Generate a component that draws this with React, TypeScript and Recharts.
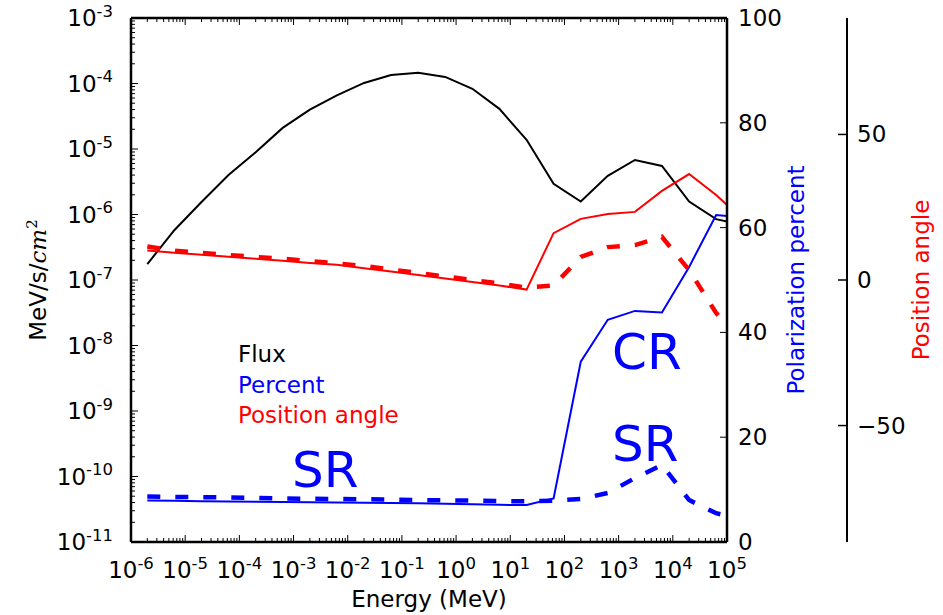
import React from 'react';
import { LineChart, Line, XAxis, YAxis, ReferenceLine } from 'recharts';

// Photon energy grid in MeV (half-decade steps, last point at the axis edge)
const energy = [
  2e-6, 6.3e-6, 2e-5, 6.3e-5, 2e-4, 6.3e-4, 2e-3, 6.3e-3, 0.02, 0.063, 0.2, 0.63,
  2, 6.3, 20, 63, 200, 630, 2000, 6300, 2e4, 6.3e4, 1e5,
];

// Flux, MeV/s/cm^2
const flux = [
  1.75e-7, 5.75e-7, 1.55e-6, 4.0e-6, 8.9e-6, 2.1e-5, 4.0e-5, 6.6e-5, 1.02e-4, 1.35e-4,
  1.46e-4, 1.26e-4, 8.3e-5, 4.1e-5, 1.38e-5, 2.95e-6, 1.58e-6, 3.9e-6, 6.8e-6, 5.5e-6,
  1.58e-6, 8.5e-7, 7.8e-7,
];

// Polarization percent: curvature (solid) and synchrotron (dashed)
const percentCR = [
  7.9, 7.85, 7.8, 7.75, 7.7, 7.65, 7.6, 7.55, 7.5, 7.45, 7.4, 7.3, 7.2, 7.1, 7.05,
  8.3, 34.4, 42.4, 44.1, 43.8, 52.5, 62.4, 62.2,
];
const percentSR = [
  8.7, 8.6, 8.55, 8.5, 8.4, 8.3, 8.25, 8.2, 8.15, 8.1, 8.0, 7.95, 7.9, 7.8, 7.8,
  7.9, 8.2, 9.35, 12.2, 14.7, 8.0, 5.5, 5.0,
];

// Position angle in degrees
const angleCR = [
  10.1, 9.4, 8.7, 8.0, 7.3, 6.6, 5.8, 5.2, 4.0, 2.9, 1.7, 0.5, -0.7, -1.9, -3.3,
  16.1, 21.0, 22.7, 23.4, 30.6, 36.4, 29.2, 25.8,
];
const angleSR = [
  11.5, 10.1, 9.3, 8.6, 7.9, 7.3, 6.5, 5.7, 4.8, 3.6, 2.4, 1.2, 0, -1.2, -2.6,
  -1.9, 7.9, 11.3, 12.0, 14.8, 3.4, -11.3, -15.5,
];

const percentTicks = [0, 20, 40, 60, 80, 100];
const angleTicks = [-50, 0, 50];

// log axes: decades plus 2..9 minor ticks
function logTicks(from: number, to: number) {
  const out: number[] = [];
  for (let e = from; e <= to; e++) {
    out.push(Math.pow(10, e));
    if (e < to) for (let m = 2; m <= 9; m++) out.push(m * Math.pow(10, e));
  }
  return out;
}
const energyTicks = logTicks(-6, 5);
const fluxTicks = logTicks(-11, -3);

const data = energy.map((E, i) => ({
  E,
  flux: flux[i],
  pctCR: percentCR[i],
  pctSR: percentSR[i],
  angCR: angleCR[i],
  angSR: angleSR[i],
}));

const FONT = '"DejaVu Sans", sans-serif';
const FS = 23;
const SUP = 16.5;
const BLUE = '#0000ff';
const RED = '#ff0000';
const PLOT_TOP = 18;

const isDecade = (v: number) => {
  const l = Math.log10(v);
  return Math.abs(l - Math.round(l)) < 1e-6;
};

const EnergyTick = (props: any) => {
  const { x, y, payload } = props;
  const major = isDecade(payload.value);
  const len = major ? 7 : 4;
  return (
    <g>
      <line x1={x} x2={x} y1={y} y2={y - len} stroke="#000" strokeWidth={1} />
      <line x1={x} x2={x} y1={PLOT_TOP} y2={PLOT_TOP + len} stroke="#000" strokeWidth={1} />
      {major && (
        <text x={x} y={y + 36} textAnchor="middle" fontSize={FS} fontFamily={FONT} fill="#000">
          10
          <tspan dy={-9.5} fontSize={SUP}>
            {Math.round(Math.log10(payload.value))}
          </tspan>
        </text>
      )}
    </g>
  );
};

const FluxTick = (props: any) => {
  const { x, y, payload } = props;
  const major = isDecade(payload.value);
  return (
    <g>
      <line x1={x} x2={x + (major ? 7 : 4)} y1={y} y2={y} stroke="#000" strokeWidth={1} />
      {major && (
        <text x={x - 18} y={y + 8} textAnchor="end" fontSize={FS} fontFamily={FONT} fill="#000">
          10
          <tspan dy={-9.5} fontSize={SUP}>
            {Math.round(Math.log10(payload.value))}
          </tspan>
        </text>
      )}
    </g>
  );
};

const PercentTick = (props: any) => {
  const { x, y, payload } = props;
  return (
    <g>
      <line x1={x - 7} x2={x} y1={y} y2={y} stroke="#000" strokeWidth={1} />
      <text x={x + 11} y={y + 8} fontSize={FS} fontFamily={FONT} fill="#000">
        {payload.value}
      </text>
    </g>
  );
};

const AngleTick = (props: any) => {
  const { x, y, payload } = props;
  const v = payload.value as number;
  return (
    <g>
      <line x1={x - 9} x2={x} y1={y} y2={y} stroke="#000" strokeWidth={1.5} />
      <text x={x + 10} y={y + 8} fontSize={FS} fontFamily={FONT} fill="#000">
        {v < 0 ? `\u2212${-v}` : v}
      </text>
    </g>
  );
};

const rotated = (x: number, y: number, fill: string, children: React.ReactNode) => (
  <text
    x={x}
    y={y}
    transform={`rotate(-90, ${x}, ${y})`}
    textAnchor="middle"
    fontSize={FS}
    fontFamily={FONT}
    fill={fill}
  >
    {children}
  </text>
);

export default function App() {
  return (
    <div style={{ position: 'absolute', left: 0, top: 0, background: '#fff' }}>
      <LineChart
        width={943}
        height={615}
        data={data}
        margin={{ top: PLOT_TOP, right: 0, bottom: 0, left: 0 }}
      >
        <XAxis
          dataKey="E"
          type="number"
          scale="log"
          domain={[1e-6, 1e5]}
          allowDataOverflow
          ticks={energyTicks}
          interval={0}
          height={73}
          tickSize={0}
          tickMargin={0}
          tickLine={false}
          tick={<EnergyTick />}
          axisLine={{ stroke: '#000', strokeWidth: 2.5 }}
          label={{
            content: ({ viewBox }: any) => (
              <text
                x={viewBox.x + viewBox.width / 2}
                y={viewBox.y + 65}
                textAnchor="middle"
                fontSize={FS}
                fontFamily={FONT}
                fill="#000"
              >
                Energy (MeV)
              </text>
            ),
          }}
        />
        <YAxis
          yAxisId="flux"
          type="number"
          scale="log"
          domain={[1e-11, 1e-3]}
          allowDataOverflow
          ticks={fluxTicks}
          interval={0}
          width={131}
          tickSize={0}
          tickMargin={0}
          tickLine={false}
          tick={<FluxTick />}
          axisLine={{ stroke: '#000', strokeWidth: 2.5 }}
          label={{
            content: ({ viewBox }: any) =>
              rotated(viewBox.x + 46, viewBox.y + viewBox.height / 2, '#000', (
                <>
                  MeV/s/
                  <tspan fontFamily='"DejaVu Serif", serif' fontStyle="italic">
                    cm
                  </tspan>
                  <tspan fontFamily='"DejaVu Serif", serif' fontSize={15} dy={-9}>
                    2
                  </tspan>
                </>
              )),
          }}
        />
        <YAxis
          yAxisId="right1"
          orientation="right"
          type="number"
          domain={[0, 100]}
          ticks={percentTicks}
          interval={0}
          width={120}
          tickSize={0}
          tickMargin={0}
          tickLine={false}
          tick={<PercentTick />}
          axisLine={{ stroke: '#000', strokeWidth: 2.5 }}
          label={{
            content: ({ viewBox }: any) =>
              rotated(viewBox.x + 77, viewBox.y + viewBox.height / 2, BLUE, 'Polarization percent'),
          }}
        />
        <YAxis
          yAxisId="right2"
          orientation="right"
          type="number"
          domain={[-90, 90]}
          ticks={angleTicks}
          interval={0}
          width={96}
          tickSize={0}
          tickMargin={0}
          tickLine={false}
          tick={<AngleTick />}
          axisLine={{ stroke: '#000', strokeWidth: 2 }}
          label={{
            content: ({ viewBox }: any) =>
              rotated(viewBox.x + 82, viewBox.y + viewBox.height / 2, RED, 'Position angle'),
          }}
        />

        <ReferenceLine yAxisId="flux" y={1e-3} stroke="#000" strokeWidth={2.5} />

        <Line yAxisId="flux" dataKey="flux" type="linear" stroke="#000" strokeWidth={2} dot={false} isAnimationActive={false} />
        <Line yAxisId="right1" dataKey="pctCR" type="linear" stroke={BLUE} strokeWidth={2} dot={false} isAnimationActive={false} />
        <Line yAxisId="right1" dataKey="pctSR" type="linear" stroke={BLUE} strokeWidth={4.5} strokeDasharray="13 15" dot={false} isAnimationActive={false} />
        <Line yAxisId="right2" dataKey="angCR" type="linear" stroke={RED} strokeWidth={2} dot={false} isAnimationActive={false} />
        <Line yAxisId="right2" dataKey="angSR" type="linear" stroke={RED} strokeWidth={4.5} strokeDasharray="13 15" dot={false} isAnimationActive={false} />

        <g fontFamily={FONT}>
          <text x={238} y={362} fontSize={FS} fill="#000">Flux</text>
          <text x={238} y={392.5} fontSize={FS} fill={BLUE}>Percent</text>
          <text x={238} y={423} fontSize={FS} fill={RED}>Position angle</text>
          <text x={292} y={487} fontSize={50} fill={BLUE}>SR</text>
          <text x={612} y={369} fontSize={50} fill={BLUE}>CR</text>
          <text x={612} y={461} fontSize={50} fill={BLUE}>SR</text>
        </g>
      </LineChart>
    </div>
  );
}
